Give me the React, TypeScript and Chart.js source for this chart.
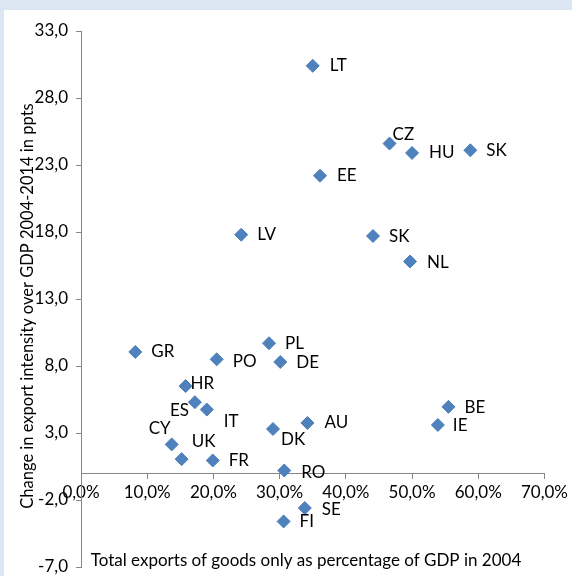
import React, { useEffect, useRef } from "react";
import { Chart, registerables } from "chart.js";

Chart.register(...registerables);

const countries = ["LT", "EE", "LV", "SK", "CZ", "HU", "SK", "NL", "AU", "DK", "RO", "BE", "IE", "SE", "FI", "GR", "PO", "PL", "DE", "HR", "ES", "IT", "UK", "CY", "FR"];
const exportShare2004 = [35.0, 36.1, 24.2, 44.1, 46.6, 50.0, 58.8, 49.7, 34.2, 29.0, 30.7, 55.5, 53.9, 33.8, 30.6, 8.2, 20.5, 28.4, 30.1, 15.8, 17.2, 19.0, 13.7, 15.2, 19.9];
const intensityChange = [30.4, 22.2, 17.8, 17.7, 24.6, 23.9, 24.1, 15.8, 3.75, 3.3, 0.2, 4.95, 3.6, -2.6, -3.6, 9.05, 8.5, 9.7, 8.3, 6.5, 5.3, 4.75, 2.15, 1.05, 0.95];
const yTicks = { min: -7, max: 33, step: 5 };
const xTicks = { min: 0, max: 70, step: 10 };
const xTitle = "Total exports of goods only as percentage of GDP in 2004";
const yTitle = "Change in export intensity over GDP 2004-2014 in ppts";

// label placement (pixel offsets from marker centre: left edge of text, vertical centre)
const labelOffsets: [number, number][] = [
  [17, 0], [17, 0], [16, 0], [16, 0], [3, -9], [17, 0], [16, 0], [17, 1], [17, 0], [8, 11],
  [17, 2], [16, 1], [15, 1], [17, 1], [16, 0], [16, 0], [16, 2], [16, 0], [16, 1], [5, -3],
  [-25, 8], [17, 12], [20, -3], [-33, -31], [16, 0],
];

const FONT = "Lato, 'Liberation Sans', sans-serif";
const FS = 17;
const YTITLE_FS = 16.5;
const TEXT = "#000000";
const AXIS = "#868686";

export default function App() {
  const ref = useRef<HTMLCanvasElement | null>(null);

  useEffect(() => {
    if (!ref.current) return;
    const labelsPlugin = {
      id: "pointLabels",
      afterDatasetsDraw(chart: any) {
        const ctx = chart.ctx;
        const meta = chart.getDatasetMeta(0);
        ctx.save();
        ctx.font = `${FS}px ${FONT}`;
        ctx.fillStyle = TEXT;
        ctx.textAlign = "left";
        ctx.textBaseline = "middle";
        meta.data.forEach((el: any, i: number) => {
          const [dx, dy] = labelOffsets[i] || [16, 0];
          ctx.fillText(countries[i], el.x + dx, el.y + dy);
        });
        ctx.restore();
      },
    };
    const titlesPlugin = {
      id: "axisTitles",
      afterDraw(chart: any) {
        const ctx = chart.ctx;
        const area = chart.chartArea;
        ctx.save();
        ctx.fillStyle = TEXT;
        ctx.textAlign = "center";
        ctx.textBaseline = "middle";
        ctx.font = `${FS}px ${FONT}`;
        ctx.fillText(xTitle, area.left + 225, area.bottom - 6);
        ctx.font = `${YTITLE_FS}px ${FONT}`;
        ctx.translate(24, area.top + 275);
        ctx.rotate(-Math.PI / 2);
        ctx.fillText(yTitle, 0, 0);
        ctx.restore();
      },
    };

    const chart = new Chart(ref.current, {
      type: "scatter",
      data: {
        datasets: [
          {
            data: exportShare2004.map((x, i) => ({ x, y: intensityChange[i] })),
            pointStyle: "rectRot",
            pointRadius: 6.5,
            pointHoverRadius: 6.5,
            backgroundColor: "#4f81bd",
            borderColor: "#4a7ebb",
            borderWidth: 1,
          },
        ],
      },
      options: {
        animation: false,
        responsive: false,
        devicePixelRatio: 1,
        layout: { padding: { left: 0, top: 21, right: 26, bottom: 9 } },
        plugins: { legend: { display: false }, tooltip: { enabled: false } },
        scales: {
          x: {
            type: "linear",
            position: { y: 0 } as any,
            min: xTicks.min,
            max: xTicks.max,
            ticks: {
              stepSize: xTicks.step,
              padding: 4,
              color: TEXT,
              font: { family: FONT, size: FS },
              maxRotation: 0,
              callback: (v: any) => Number(v).toFixed(1).replace(".", ",") + "%",
            },
            grid: { drawOnChartArea: false, drawTicks: true, tickLength: 5, color: AXIS },
            border: { display: true, color: AXIS, width: 1 },
          },
          y: {
            type: "linear",
            position: "left",
            min: yTicks.min,
            max: yTicks.max,
            afterFit: (s: any) => {
              s.width = 77;
              s.paddingTop = 0;
              s.paddingBottom = 0;
            },
            ticks: {
              stepSize: yTicks.step,
              padding: 8,
              color: TEXT,
              font: { family: FONT, size: FS },
              callback: (v: any) => Number(v).toFixed(1).replace(".", ","),
            },
            grid: { drawOnChartArea: false, drawTicks: true, tickLength: 5, color: AXIS },
            border: { display: true, color: AXIS, width: 1 },
          },
        },
      },
      plugins: [labelsPlugin, titlesPlugin],
    });
    return () => chart.destroy();
  }, []);

  return (
    <div style={{ position: "fixed", left: 0, top: 0, width: 572, height: 576, background: "#dce6f2", overflow: "hidden" }}>
      <div style={{ position: "absolute", left: 4, top: 10, width: 568, height: 566, background: "#ffffff" }}>
        <canvas ref={ref} width={568} height={566} style={{ display: "block" }} />
      </div>
    </div>
  );
}
